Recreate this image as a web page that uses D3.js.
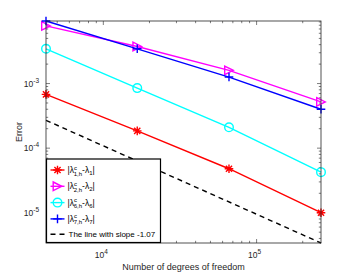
<!DOCTYPE html>
<html>
<head>
<meta charset="utf-8">
<script src="https://cdn.jsdelivr.net/npm/d3@7"></script>
<style>
  body { margin: 0; background: #fff; }
  svg { font-family: "Liberation Sans", Arial, sans-serif; }
</style>
</head>
<body>
<div id="chart"></div>
<script>
// degrees of freedom
const dofs = [4225, 16641, 66049, 263169];

// errors
const err1 = [6.8e-4, 1.85e-4, 4.8e-5, 1.0e-5];
const err2 = [7.8e-3, 3.75e-3, 1.6e-3, 5.2e-4];
const err6 = [3.45e-3, 8.5e-4, 2.1e-4, 4.25e-5];
const err7 = [9.3e-3, 3.45e-3, 1.26e-3, 4.0e-4];

// reference line end points
const refX = [4225, 263169];
const refY = [2.7e-4, 3.4e-6];

const xTicks = [1e4, 1e5];
const yTicks = [1e-5, 1e-4, 1e-3];

const series = [
  { name: "1", vals: err1, color: "#ff0000", marker: "star" },
  { name: "2", vals: err2, color: "#ff00ff", marker: "tri" },
  { name: "6", vals: err6, color: "#00ffff", marker: "circle" },
  { name: "7", vals: err7, color: "#0000ff", marker: "plus" },
];

const width = 354, height = 273;
const margin = { top: 21, right: 33, bottom: 30, left: 46 };
const innerW = width - margin.left - margin.right;
const innerH = height - margin.top - margin.bottom;
const axisColor = "#262626";

const svg = d3.select("#chart").append("svg")
  .attr("width", width).attr("height", height);

const g = svg.append("g").attr("transform", `translate(${margin.left},${margin.top})`);

const x = d3.scaleLog().domain(d3.extent(dofs)).range([0, innerW]);
const yMin = d3.min([...refY, ...err1]);
const yMax = d3.max([...err2, ...err7]);
const y = d3.scaleLog().domain([yMin, yMax]).range([innerH, 0]);

// minor ticks
function minorTicks(scale) {
  const [a, b] = scale.domain();
  const out = [];
  for (let e = Math.floor(Math.log10(a)); e <= Math.ceil(Math.log10(b)); e++) {
    for (let m = 1; m < 10; m++) {
      const v = m * Math.pow(10, e);
      if (v >= a && v <= b) out.push({ v, major: m === 1 });
    }
  }
  return out;
}

const tickG = g.append("g").attr("stroke", axisColor).attr("stroke-width", 0.6);
minorTicks(x).forEach((t) => {
  const len = t.major ? 4 : 2.2;
  const px = x(t.v);
  tickG.append("line").attr("x1", px).attr("x2", px).attr("y1", innerH).attr("y2", innerH - len);
  tickG.append("line").attr("x1", px).attr("x2", px).attr("y1", 0).attr("y2", len);
});
minorTicks(y).forEach((t) => {
  const len = t.major ? 4 : 2.2;
  const py = y(t.v);
  tickG.append("line").attr("x1", 0).attr("x2", len).attr("y1", py).attr("y2", py);
  tickG.append("line").attr("x1", innerW).attr("x2", innerW - len).attr("y1", py).attr("y2", py);
});

// tick labels
function powLabel(sel, v) {
  const e = Math.round(Math.log10(v));
  sel.append("tspan").text("10");
  sel.append("tspan").attr("dy", -4).attr("font-size", 6.5).text(e);
}
yTicks.forEach((v) => {
  const t = g.append("text").attr("x", -7).attr("y", y(v) + 3)
    .attr("text-anchor", "end").attr("font-size", 8.5).attr("fill", axisColor);
  powLabel(t, v);
});
xTicks.forEach((v) => {
  const t = g.append("text").attr("x", x(v) - 2).attr("y", innerH + 15)
    .attr("text-anchor", "middle").attr("font-size", 8.5).attr("fill", axisColor);
  powLabel(t, v);
});

// axis labels
g.append("text").attr("x", innerW / 2).attr("y", innerH + 27)
  .attr("text-anchor", "middle").attr("font-size", 9).attr("fill", axisColor)
  .text("Number of degrees of freedom");
g.append("text").attr("transform", "rotate(-90)")
  .attr("x", -innerH / 2).attr("y", -24)
  .attr("text-anchor", "middle").attr("font-size", 9).attr("fill", axisColor)
  .text("Error");

// markers
function drawMarker(sel, type, cx, cy, color) {
  const s = 4.3;
  if (type === "circle") {
    sel.append("circle").attr("cx", cx).attr("cy", cy).attr("r", s)
      .attr("fill", "none").attr("stroke", color).attr("stroke-width", 1.4);
  } else if (type === "tri") {
    sel.append("path")
      .attr("d", `M${cx - s},${cy - s}L${cx + s},${cy}L${cx - s},${cy + s}Z`)
      .attr("fill", "none").attr("stroke", color).attr("stroke-width", 1.4);
  } else if (type === "plus") {
    sel.append("path")
      .attr("d", `M${cx - s},${cy}H${cx + s}M${cx},${cy - s}V${cy + s}`)
      .attr("stroke", color).attr("stroke-width", 1.4);
  } else if (type === "star") {
    const d = s * 0.72;
    sel.append("path")
      .attr("d", `M${cx - s},${cy}H${cx + s}M${cx},${cy - s}V${cy + s}` +
        `M${cx - d},${cy - d}L${cx + d},${cy + d}M${cx - d},${cy + d}L${cx + d},${cy - d}`)
      .attr("stroke", color).attr("stroke-width", 1.4);
  }
}

const line = d3.line().x((d) => x(d[0])).y((d) => y(d[1]));

// reference dashed line
g.append("path")
  .datum(refX.map((v, i) => [v, refY[i]]))
  .attr("d", line)
  .attr("fill", "none").attr("stroke", "#000").attr("stroke-width", 1.4)
  .attr("stroke-dasharray", "5 4");

series.forEach((s) => {
  const pts = dofs.map((v, i) => [v, s.vals[i]]);
  g.append("path").datum(pts).attr("d", line)
    .attr("fill", "none").attr("stroke", s.color).attr("stroke-width", 1.4);
  pts.forEach((p) => drawMarker(g, s.marker, x(p[0]), y(p[1]), s.color));
});

// axes box
g.append("rect").attr("width", innerW).attr("height", innerH)
  .attr("fill", "none").attr("stroke", axisColor).attr("stroke-width", 0.8);

// legend
const leg = g.append("g").attr("transform", `translate(0.5,${innerH - 84})`);
leg.append("rect").attr("width", 114).attr("height", 83.5)
  .attr("fill", "#fff").attr("stroke", "#000").attr("stroke-width", 1.2);

series.forEach((s, i) => {
  const ly = 11 + i * 16.3;
  leg.append("line").attr("x1", 4).attr("x2", 18).attr("y1", ly).attr("y2", ly)
    .attr("stroke", s.color).attr("stroke-width", 1.4);
  drawMarker(leg, s.marker, 11, ly, s.color);
  const t = leg.append("text").attr("x", 21).attr("y", ly + 3)
    .attr("font-size", 8.5).attr("fill", "#000");
  t.append("tspan").text("|λ");
  t.append("tspan").attr("dy", -3.5).attr("font-size", 6).text("c");
  t.append("tspan").attr("dx", -3.2).attr("dy", 6).attr("font-size", 6).text(s.name + ",h");
  t.append("tspan").attr("dy", -2.5).text("-λ");
  t.append("tspan").attr("dy", 2).attr("font-size", 6).text(s.name);
  t.append("tspan").attr("dy", -2).text("|");
});
const dy = 11 + 4 * 16.3 - 1;
leg.append("line").attr("x1", 4).attr("x2", 19).attr("y1", dy).attr("y2", dy)
  .attr("stroke", "#000").attr("stroke-width", 1.4).attr("stroke-dasharray", "5 4");
leg.append("text").attr("x", 22).attr("y", dy + 3).attr("font-size", 8)
  .attr("fill", "#000").text("The line with slope -1.07");
</script>
</body>
</html>
